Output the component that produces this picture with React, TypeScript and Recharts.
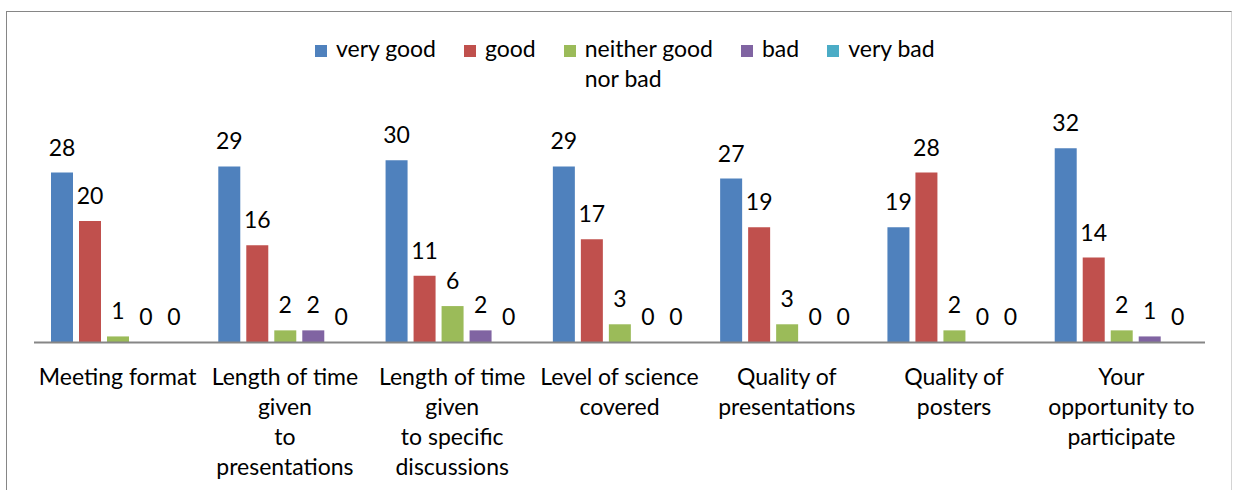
import React from "react";
import { BarChart, Bar, XAxis, YAxis, Legend, LabelList } from "recharts";

const categories = [
  "Meeting format",
  "Length of time\ngiven\nto\npresentations",
  "Length of time\ngiven\nto specific\ndiscussions",
  "Level of science\ncovered",
  "Quality of\npresentations",
  "Quality of\nposters",
  "Your\nopportunity to\nparticipate",
];
const veryGood = [28, 29, 30, 29, 27, 19, 32];
const good = [20, 16, 11, 17, 19, 28, 14];
const neither = [1, 2, 6, 3, 3, 2, 2];
const bad = [0, 2, 2, 0, 0, 0, 1];
const veryBad = [0, 0, 0, 0, 0, 0, 0];

const seriesNames = ["very good", "good", "neither good nor bad", "bad", "very bad"];
const legendLabels = ["very good", "good", "neither good\nnor bad", "bad", "very bad"];
const seriesColors = ["#4F81BD", "#C0504D", "#9BBB59", "#8064A2", "#4BACC6"];
const seriesKeys = ["veryGood", "good", "neither", "bad", "veryBad"];
const seriesValues = [veryGood, good, neither, bad, veryBad];

const series = seriesKeys.map((key, i) => ({
  key,
  name: seriesNames[i],
  legend: legendLabels[i],
  color: seriesColors[i],
  values: seriesValues[i],
}));

const data = categories.map((c, i) => {
  const row: Record<string, any> = { category: c };
  series.forEach((s) => (row[s.key] = s.values[i]));
  return row;
});

const FONT = "Lato, 'Open Sans', sans-serif";
const FS = 23;

const CategoryTick = (props: any) => {
  const { x, y, payload } = props;
  const lines = String(payload.value).split("\n");
  return (
    <text x={x} y={y} textAnchor="middle" fill="#000" fontFamily={FONT} fontSize={FS}>
      {lines.map((l, i) => (
        <tspan key={i} x={x} dy={i === 0 ? 34 : 30}>
          {l}
        </tspan>
      ))}
    </text>
  );
};

const renderLegend = () => (
  <div
    style={{
      display: "flex",
      justifyContent: "flex-start",
      alignItems: "flex-start",
      paddingLeft: 315,
      fontFamily: FONT,
      fontSize: FS,
      lineHeight: "30px",
      color: "#000",
    }}
  >
    {series.map((s) => (
      <div key={s.key} style={{ display: "flex", alignItems: "flex-start", marginRight: 28 }}>
        <div
          style={{
            width: 12,
            height: 12,
            background: s.color,
            marginTop: 12,
            marginRight: 9,
            flex: "none",
          }}
        />
        <div style={{ whiteSpace: "pre-line", textAlign: "left" }}>{s.legend}</div>
      </div>
    ))}
  </div>
);

export default function App() {
  return (
    <div style={{ position: "absolute", left: 0, top: 0, width: 1233, height: 490, background: "#fff", overflow: "hidden" }}>
      <BarChart
        width={1233}
        height={490}
        data={data}
        margin={{ top: 130, right: 28, left: 34, bottom: 7.5 }}
        barCategoryGap={17}
        barGap={6}
      >
        <XAxis
          dataKey="category"
          interval={0}
          height={140}
          tickLine={false}
          axisLine={{ stroke: "#868686", strokeWidth: 2 }}
          tick={<CategoryTick />}
        />
        <YAxis hide domain={[0, 35]} />
        <Legend
          layout="vertical"
          align="center"
          verticalAlign="middle"
          wrapperStyle={{ top: 33, left: 0, width: 1233 }}
          content={renderLegend}
        />
        {series.map((s) => (
          <Bar
            key={s.key}
            dataKey={s.key}
            name={s.name}
            fill={s.color}
            minPointSize={0.01}
            isAnimationActive={false}
          >
            <LabelList
              dataKey={s.key}
              position="top"
              offset={17}
              fill="#000"
              fontFamily={FONT}
              fontSize={FS}
            />
          </Bar>
        ))}
      </BarChart>
      <div
        style={{
          position: "absolute",
          left: 6,
          top: 11,
          width: 1226,
          height: 500,
          boxSizing: "border-box",
          borderTop: "1px solid #868686",
          borderLeft: "1px solid #868686",
          borderRight: "1px solid #d4d4d4",
          pointerEvents: "none",
        }}
      />
    </div>
  );
}
